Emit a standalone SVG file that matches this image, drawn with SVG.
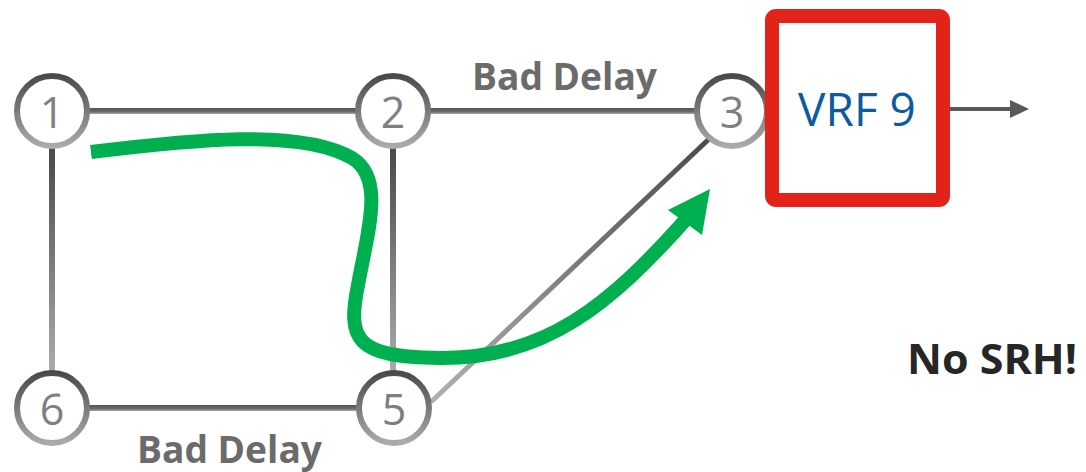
<svg xmlns="http://www.w3.org/2000/svg" width="1086" height="472" viewBox="0 0 1086 472">
<defs>
<linearGradient id="gv" x1="0" y1="0" x2="0" y2="1"><stop offset="0" stop-color="#4a4a4a"/><stop offset="1" stop-color="#ababab"/></linearGradient>
<linearGradient id="gh" x1="0" y1="0" x2="0" y2="1"><stop offset="0" stop-color="#555555"/><stop offset="0.6" stop-color="#6a6a6a"/><stop offset="1" stop-color="#a8a8a8"/></linearGradient>
<linearGradient id="gd" gradientUnits="userSpaceOnUse" x1="710" y1="138" x2="433" y2="400"><stop offset="0" stop-color="#4a4a4a"/><stop offset="1" stop-color="#b0b0b0"/></linearGradient>
<style>
.node circle{fill:#fff;stroke:url(#gv);stroke-width:6}
.node text{font-family:"Open Sans","Liberation Sans",sans-serif;font-size:43px;fill:#7f7f7f;text-anchor:middle}
.lbl{font-family:"Open Sans","Liberation Sans",sans-serif;font-weight:bold;fill:#6b6b6b;font-size:37px}
</style>
</defs>
<rect width="1086" height="472" fill="#fff"/>
<g id="connectors">
<rect x="88" y="108" width="270" height="6" fill="url(#gh)"/>
<rect x="429" y="108" width="270" height="6" fill="url(#gh)"/>
<rect x="88" y="405" width="270" height="6" fill="url(#gh)"/>
<rect x="49" y="148" width="6" height="224" fill="url(#gv)"/>
<rect x="390" y="148" width="6" height="224" fill="url(#gv)"/>
<line x1="710" y1="138" x2="431" y2="402" stroke="url(#gd)" stroke-width="5"/>
<line x1="950" y1="109" x2="1013" y2="109" stroke="#595959" stroke-width="4"/>
<polygon points="1010,100 1029,109 1010,118" fill="#595959"/>
<path d="M91,152 C190,140 300,128 352,158 C385,178 368,230 358,285 C347,340 355,357 440,358 C545,359 610,305 688,217" fill="none" stroke="#00b050" stroke-width="14"/>
<polygon points="710,189 668,210 702,235" fill="#00b050"/>
</g>
<g id="node1" class="node"><circle cx="52" cy="111" r="35"/><text x="52" y="128">1</text></g>
<g id="node2" class="node"><circle cx="393" cy="111" r="35"/><text x="393" y="128">2</text></g>
<g id="node3" class="node"><circle cx="732" cy="111" r="35"/><text x="732" y="128">3</text></g>
<g id="node5" class="node"><circle cx="394" cy="408" r="35"/><text x="394" y="425">5</text></g>
<g id="node6" class="node"><circle cx="52" cy="408" r="35"/><text x="52" y="425">6</text></g>
<g id="vrf9">
<rect x="772" y="16" width="171" height="184" rx="4" fill="#fff" stroke="#e2231a" stroke-width="14"/>
<text x="857" y="126" font-family="Open Sans, Liberation Sans, sans-serif" font-size="46" fill="#0d5aa0" text-anchor="middle">VRF 9</text>
</g>
<text class="lbl" x="472" y="90" textLength="185" lengthAdjust="spacingAndGlyphs">Bad Delay</text>
<text class="lbl" x="137" y="463" textLength="185" lengthAdjust="spacingAndGlyphs">Bad Delay</text>
<text x="907" y="374" font-family="Open Sans, Liberation Sans, sans-serif" font-weight="bold" font-size="42" fill="#262626" textLength="170" lengthAdjust="spacingAndGlyphs">No SRH!</text>
</svg>
